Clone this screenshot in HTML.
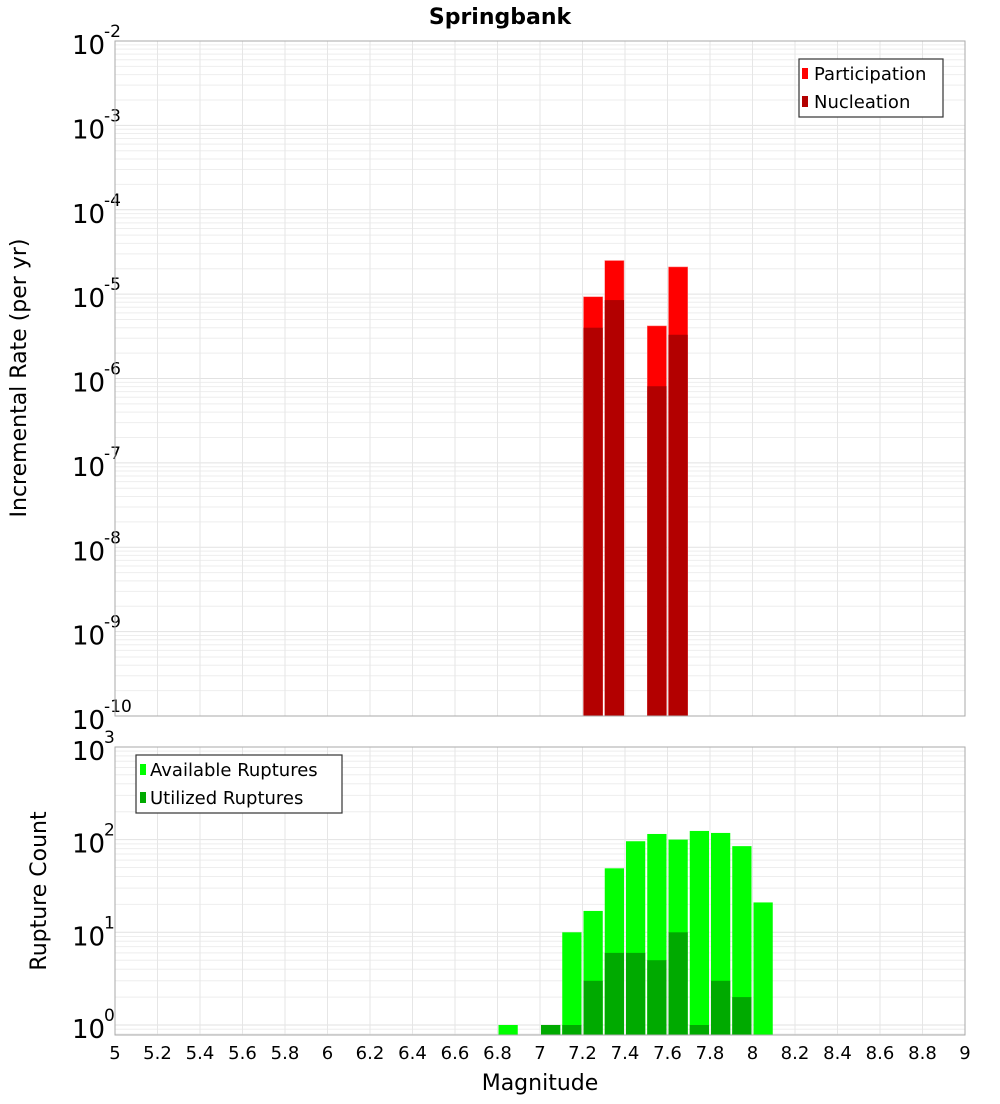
<!DOCTYPE html>
<html><head><meta charset="utf-8"><style>
body{margin:0;background:#fff;font-family:"DejaVu Sans","Liberation Sans",sans-serif}
svg text{font-family:"DejaVu Sans","Liberation Sans",sans-serif}
</style></head><body>
<svg id="c" width="1000" height="1100" xmlns="http://www.w3.org/2000/svg">
<text x="500" y="24" text-anchor="middle" font-size="22" font-weight="bold">Springbank</text>
<g id="top"></g>
<g id="bot"></g>
<text transform="translate(26,378) rotate(-90)" text-anchor="middle" font-size="22">Incremental Rate (per yr)</text>
<text transform="translate(46,891) rotate(-90)" text-anchor="middle" font-size="22">Rupture Count</text>
<text x="540" y="1090" text-anchor="middle" font-size="22">Magnitude</text>
<g>
<rect x="799" y="59" width="144" height="58" fill="#fff" stroke="#333" stroke-width="1.2"/>
<rect x="802" y="68" width="6" height="11" fill="#ff0000"/>
<text x="814" y="80" font-size="18">Participation</text>
<rect x="802" y="96" width="6" height="11" fill="#b30000"/>
<text x="814" y="108" font-size="18">Nucleation</text>
</g>
<g>
<rect x="136" y="755" width="206" height="58" fill="#fff" stroke="#333" stroke-width="1.2"/>
<rect x="140" y="764" width="6" height="11" fill="#00ff00"/>
<text x="150" y="776" font-size="18">Available Ruptures</text>
<rect x="140" y="792" width="6" height="11" fill="#00aa00"/>
<text x="150" y="804" font-size="18">Utilized Ruptures</text>
</g>
</svg>
<script>
const rateMags=[7.25,7.35,7.55,7.65];
const participation=[9.3e-6,2.5e-5,4.2e-6,2.1e-5];
const nucleation=[4.0e-6,8.5e-6,8.1e-7,3.3e-6];
const countMags=[6.85,7.05,7.15,7.25,7.35,7.45,7.55,7.65,7.75,7.85,7.95,8.05];
const available=[1,1,10,17,49,96,115,100,124,118,85,21];
const utilized=[0,1,1,3,6,6,5,10,1,3,2,0];
const xTicks=[5,5.2,5.4,5.6,5.8,6,6.2,6.4,6.6,6.8,7,7.2,7.4,7.6,7.8,8,8.2,8.4,8.6,8.8,9];
const NS='http://www.w3.org/2000/svg';
const X0=115,X1=965;
const x=m=>X0+(m-5)/4*(X1-X0);
function el(p,t,a){const e=document.createElementNS(NS,t);for(const k in a)e.setAttribute(k,a[k]);p.appendChild(e);return e;}
function panel(g,top,bot,minE,maxE,yOf,labelE){
  for(let e=minE;e<maxE;e++){for(let k=1;k<10;k++){const y=yOf(k*Math.pow(10,e));if(y<top||y>bot)continue;
    const l=el(g,'line',{x1:X0,x2:X1,y1:y,y2:y,stroke:k==1?'#e2e2e2':'#eeeeee','stroke-width':1});
    
    }}
  xTicks.forEach(t=>{const l=el(g,'line',{x1:x(t),x2:x(t),y1:top,y2:bot,stroke:'#e6e6e6'});
    
    });
  labelE.forEach(e=>{const y=yOf(Math.pow(10,e));const t=el(g,'text',{x:72,y:y+13,'font-size':26});
    
    
    t.textContent='10';const s=el(g,'text',{x:104,y:y-4,'font-size':17});s.textContent=String(e);
    
    });
}
// top
const T=document.getElementById('top');
const yT=v=>41+(-2-Math.log10(v))*84.375;
panel(T,41,716,-10,-2,yT,[-2,-3,-4,-5,-6,-7,-8,-9,-10]);
rateMags.forEach((m,i)=>{
  const r=el(T,'rect',{x:x(m-0.05)+1,y:yT(participation[i]),width:x(m+0.05)-x(m-0.05)-2,height:716-yT(participation[i]),fill:'#ff0000',stroke:'#ff8080','stroke-width':0.5});
  
  
  const n=el(T,'rect',{x:x(m-0.05)+1,y:yT(nucleation[i]),width:x(m+0.05)-x(m-0.05)-2,height:716-yT(nucleation[i]),fill:'#b30000'});
  
  
});
el(T,'rect',{x:X0,y:41,width:X1-X0,height:675,fill:'none',stroke:'#aaa'});
// bottom
const B=document.getElementById('bot');
const yB=v=>1025-Math.log10(v)*92.7;
panel(B,747,1035,-1,3,yB,[3,2,1,0]);
countMags.forEach((m,i)=>{
  const a=el(B,'rect',{x:x(m-0.05)+1,y:yB(available[i]),width:x(m+0.05)-x(m-0.05)-2,height:1035-yB(available[i]),fill:'#00ff00'});
  
  
  if(utilized[i]>0){const u=el(B,'rect',{x:x(m-0.05)+1,y:yB(utilized[i]),width:x(m+0.05)-x(m-0.05)-2,height:1035-yB(utilized[i]),fill:'#00aa00'});
  
  }
});
el(B,'rect',{x:X0,y:747,width:X1-X0,height:288,fill:'none',stroke:'#aaa'});
xTicks.forEach(t=>{const s=el(B,'text',{x:x(t),y:1059,'font-size':18,'text-anchor':'middle'});s.textContent=String(t);
  
  });
</script>
</body></html>
